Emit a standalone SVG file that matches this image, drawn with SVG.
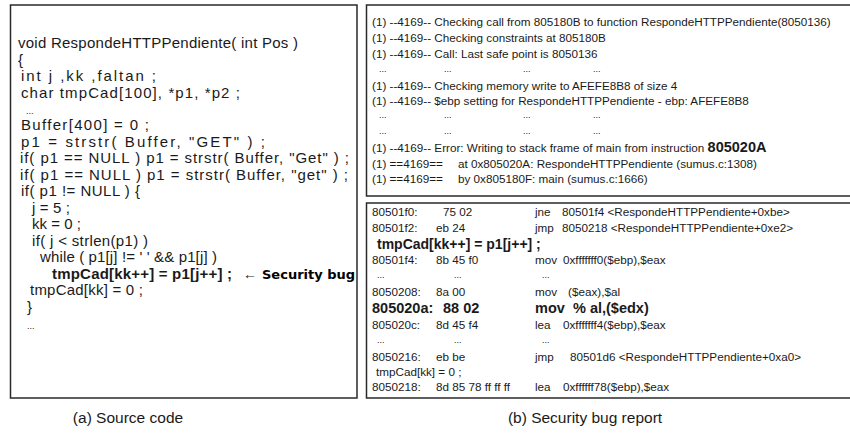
<svg xmlns="http://www.w3.org/2000/svg" width="850" height="435" viewBox="0 0 850 435">
<style>
.box{fill:#fff;stroke:#2a2a2a;stroke-width:1.5}
.src{font-family:"Liberation Sans",Arial,sans-serif;font-size:15px;fill:#1a1a1a}
.rep{font-family:"Liberation Sans",Arial,sans-serif;font-size:11.7px;fill:#1a1a1a}
.b{font-weight:bold}
.big{font-family:"Liberation Sans",Arial,sans-serif;font-size:14.5px;font-weight:bold;fill:#1a1a1a}
.cap{font-family:"Liberation Sans",Arial,sans-serif;font-size:15.5px;fill:#1a1a1a}
.heavy{font-family:"DejaVu Sans",sans-serif;font-size:13px;font-weight:bold;fill:#000}
.dots{font-size:9px}
</style>
<rect width="850" height="435" fill="#fff"/>
<g id="source-code">
<rect class="box" x="10.5" y="5" width="346.5" height="393"/>
<text class="src" x="18" y="48" textLength="280" lengthAdjust="spacing">void RespondeHTTPPendiente( int Pos )</text>
<text class="src" x="18" y="65">{</text>
<text class="src" x="21" y="81" textLength="135" lengthAdjust="spacing">int j ,kk ,faltan ;</text>
<text class="src" x="21" y="98" textLength="219" lengthAdjust="spacing">char tmpCad[100], *p1, *p2 ;</text>
<text class="src dots" x="26" y="114">...</text>
<text class="src" x="21" y="130" textLength="128" lengthAdjust="spacing">Buffer[400] = 0 ;</text>
<text class="src" x="21" y="147" textLength="244" lengthAdjust="spacing">p1 = strstr( Buffer, "GET" ) ;</text>
<text class="src" x="20" y="163" textLength="329" lengthAdjust="spacing">if( p1 == NULL ) p1 = strstr( Buffer, "Get" ) ;</text>
<text class="src" x="20" y="180" textLength="328" lengthAdjust="spacing">if( p1 == NULL ) p1 = strstr( Buffer, "get" ) ;</text>
<text class="src" x="21" y="196" textLength="119" lengthAdjust="spacing">if( p1 != NULL )  {</text>
<text class="src" x="32" y="213" textLength="38" lengthAdjust="spacing">j = 5 ;</text>
<text class="src" x="32" y="229" textLength="49" lengthAdjust="spacing">kk = 0 ;</text>
<text class="src" x="32" y="246" textLength="116" lengthAdjust="spacing">if( j &lt; strlen(p1) )</text>
<text class="src" x="40" y="262" textLength="177" lengthAdjust="spacing">while ( p1[j] != ' ' &amp;&amp; p1[j] )</text>
<text class="src b" x="52" y="279" textLength="180" lengthAdjust="spacing">tmpCad[kk++] = p1[j++] ;</text>
<text class="src" x="243" y="279" style="font-size:14px">←</text>
<text class="heavy" x="262" y="279">Security bug</text>
<text class="src" x="30" y="295" textLength="113" lengthAdjust="spacing">tmpCad[kk] = 0 ;</text>
<text class="src" x="27" y="312">}</text>
<text class="src dots" x="27" y="329">...</text>
</g>
<g id="report-top">
<rect class="box" x="366.5" y="5" width="490" height="191"/>
<text class="rep" x="372" y="26">(1) --4169-- Checking call from 805180B to function RespondeHTTPPendiente(8050136)</text>
<text class="rep" x="372" y="42">(1) --4169-- Checking constraints at 805180B</text>
<text class="rep" x="372" y="58">(1) --4169-- Call: Last safe point is 8050136</text>
<g class="rep dots"><text x="379" y="72">...</text><text x="444" y="72">...</text><text x="523" y="72">...</text><text x="593" y="72">...</text></g>
<text class="rep" x="372" y="90">(1) --4169-- Checking memory write to AFEFE8B8 of size 4</text>
<text class="rep" x="372" y="105">(1) --4169-- $ebp setting for RespondeHTTPPendiente - ebp: AFEFE8B8</text>
<g class="rep dots"><text x="379" y="118">...</text><text x="444" y="118">...</text><text x="523" y="118">...</text><text x="593" y="118">...</text></g>
<g class="rep dots"><text x="379" y="134">...</text><text x="444" y="134">...</text><text x="523" y="134">...</text><text x="593" y="134">...</text></g>
<text class="rep" x="372" y="152">(1) --4169-- Error: Writing to stack frame of main from instruction <tspan class="big">805020A</tspan></text>
<text class="rep" x="372" y="168">(1) ==4169==</text><text class="rep" x="458" y="168">at 0x805020A: RespondeHTTPPendiente (sumus.c:1308)</text>
<text class="rep" x="372" y="183">(1) ==4169==</text><text class="rep" x="458" y="183">by 0x805180F: main (sumus.c:1666)</text>
</g>
<g id="report-asm">
<rect class="box" x="366.5" y="203" width="490" height="195"/>
<g class="rep">
<text x="372" y="216">80501f0:</text><text x="443" y="216">75 02</text><text x="535" y="216">jne</text><text x="562" y="216">80501f4 &lt;RespondeHTTPPendiente+0xbe&gt;</text>
<text x="372" y="232">80501f2:</text><text x="436" y="232">eb 24</text><text x="535" y="232">jmp</text><text x="562" y="232">8050218 &lt;RespondeHTTPPendiente+0xe2&gt;</text>
<text x="372" y="264">80501f4:</text><text x="436" y="264">8b 45 f0</text><text x="535" y="264">mov</text><text x="563" y="264">0xfffffff0($ebp),$eax</text>
<g class="dots"><text x="377" y="278">...</text><text x="454" y="278">...</text><text x="542" y="278">...</text></g>
<text x="372" y="296">8050208:</text><text x="436" y="296">8a 00</text><text x="535" y="296">mov</text><text x="568" y="296">($eax),$al</text>
<text x="372" y="329">805020c:</text><text x="436" y="329">8d 45 f4</text><text x="535" y="329">lea</text><text x="563" y="329">0xfffffff4($ebp),$eax</text>
<g class="dots"><text x="377" y="343">...</text><text x="454" y="343">...</text><text x="542" y="343">...</text></g>
<text x="372" y="361">8050216:</text><text x="436" y="361">eb be</text><text x="535" y="361">jmp</text><text x="570" y="361">80501d6 &lt;RespondeHTTPPendiente+0xa0&gt;</text>
<text x="376" y="376">tmpCad[kk] = 0 ;</text>
<text x="372" y="391">8050218:</text><text x="436" y="391">8d 85 78 ff ff ff</text><text x="535" y="391">lea</text><text x="563" y="391">0xffffff78($ebp),$eax</text>
</g>
<text class="big" x="377" y="249" style="font-size:14px">tmpCad[kk++] = p1[j++] ;</text>
<g class="big"><text x="372" y="313">805020a:</text><text x="443" y="313">88 02</text><text x="535" y="313">mov</text><text x="573" y="313">% al,($edx)</text></g>
</g>
<g id="connectors"></g>
<text class="cap" x="128" y="423" text-anchor="middle">(a) Source code</text>
<text class="cap" x="585" y="423" text-anchor="middle">(b) Security bug report</text>
</svg>
